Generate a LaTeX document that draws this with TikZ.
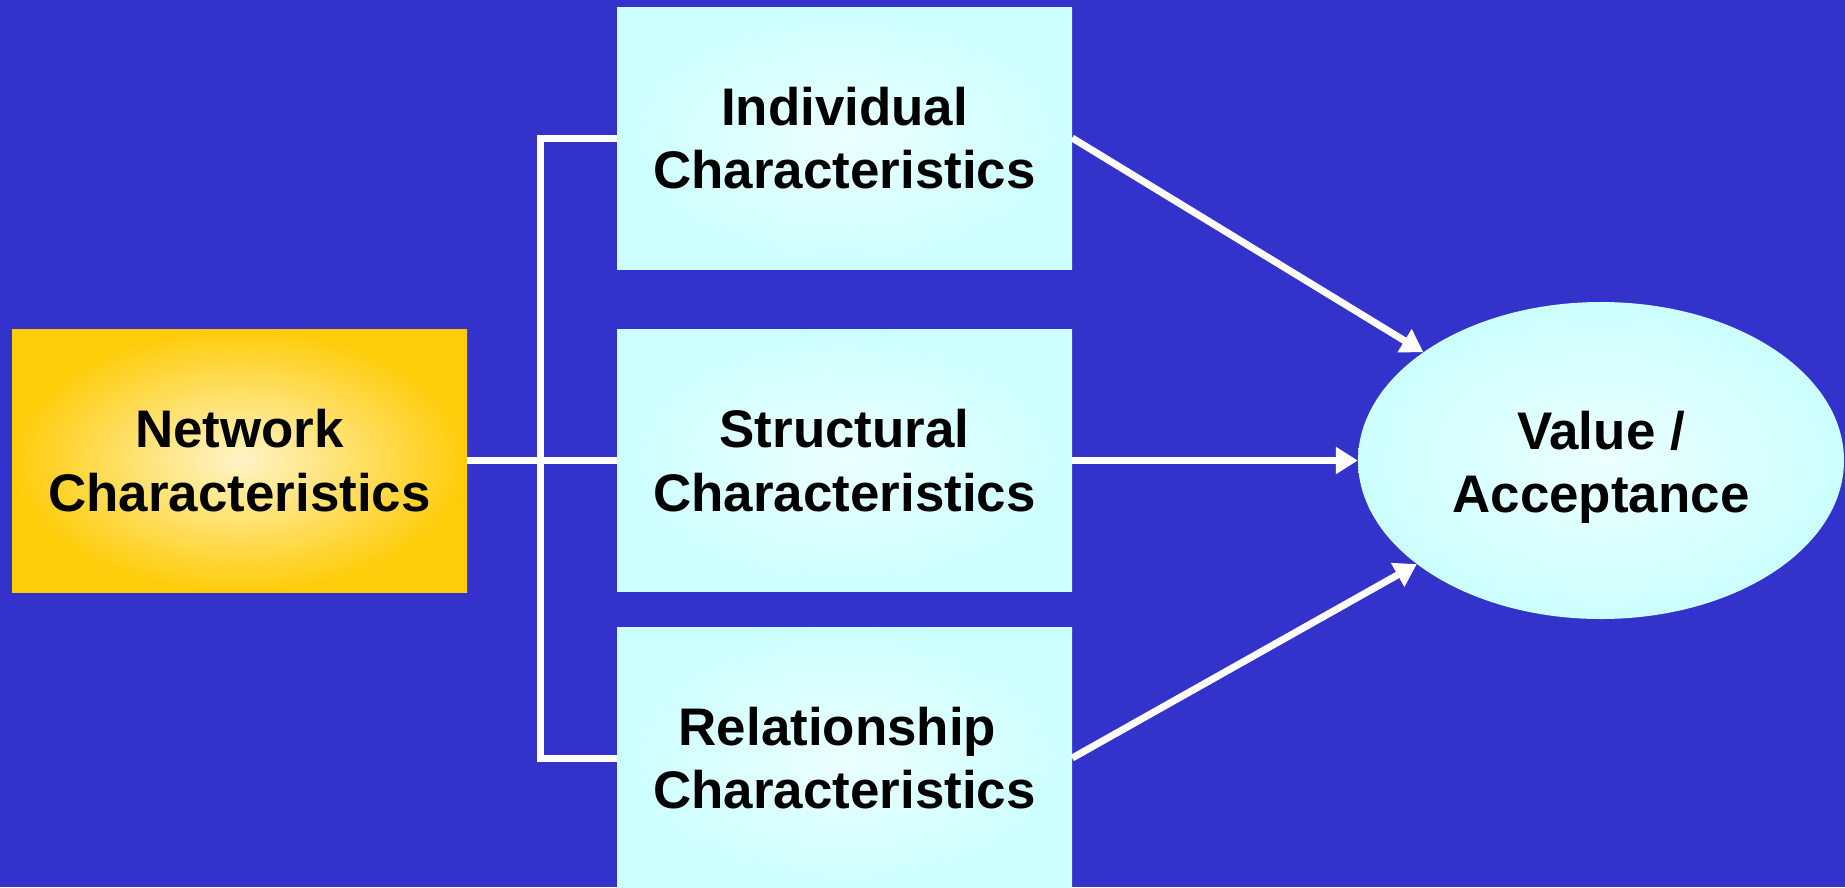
\documentclass[tikz,border=0pt]{standalone}
\usepackage{fontspec}
\setmainfont{Liberation Sans}
\usetikzlibrary{arrows.meta,shapes.geometric}
\definecolor{bg}{RGB}{51,51,204}
\definecolor{cyanout}{RGB}{204,255,255}
\definecolor{cyanin}{RGB}{236,255,255}
\definecolor{goldout}{RGB}{255,204,10}
\definecolor{goldin}{RGB}{255,244,200}
\begin{document}
\begin{tikzpicture}[x=1pt,y=-1pt,
  lbl/.style={font=\fontsize{52.9}{63.5}\selectfont\bfseries, align=center, text=black},
  cbox/.style={lbl, rectangle, inner sep=0pt, minimum width=455pt, minimum height=262pt,
    inner color=cyanin, outer color=cyanout},
  nbox/.style={lbl, rectangle, inner sep=0pt, minimum width=455pt, minimum height=263pt,
    inner color=goldin, outer color=goldout},
  vell/.style={ellipse, inner sep=0pt, minimum width=486pt, minimum height=317pt,
    inner color=cyanin, outer color=cyanout},
  conn/.style={draw=white, line width=7pt},
  arr/.style={conn, -{Triangle[length=22pt,width=26pt]}}]
\fill[bg] (0,0) rectangle (1845,887);
\useasboundingbox (0,0) rectangle (1845,887);
\node[nbox] (net) at (239.5,460.5) {Network\\Characteristics};
\node[cbox] (ind) at (844.5,138) {Individual\\Characteristics};
\node[cbox] (str) at (844.5,460.5) {Structural\\Characteristics};
\node[cbox] (rel) at (844.5,758) {Relationship\hspace*{14pt}\\Characteristics};
\node[vell] (val) at (1601,460.5) {};
\node[lbl] (valtxt) at (1601,467.5) {Value /\\Acceptance};
\draw[conn] (ind.west) -- ++(-76,0) coordinate (bt) |- (rel.west);
\draw[conn] (net.east) -- (str.west);
\draw[arr] (ind.east) -- (val);
\draw[arr] (str.east) -- (val);
\draw[arr] (rel.east) -- (val);
\end{tikzpicture}
\end{document}
